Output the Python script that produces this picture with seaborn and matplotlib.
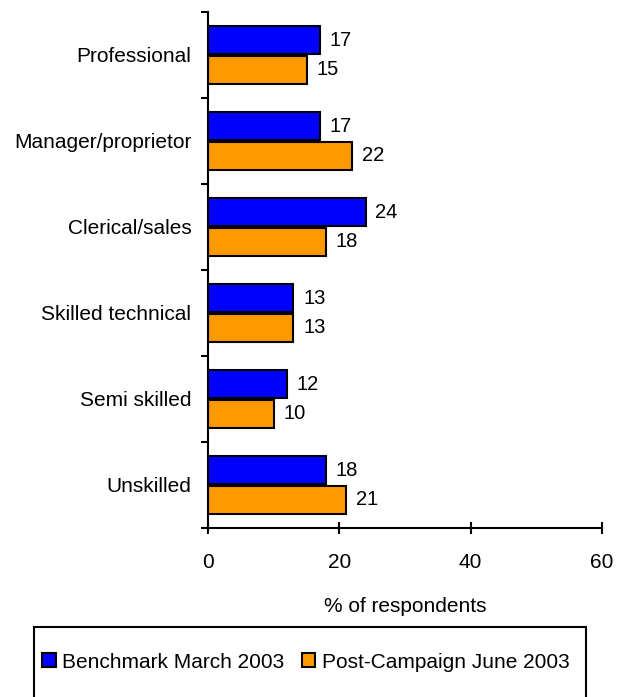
import numpy as np
import pandas as pd
import matplotlib.pyplot as plt
import seaborn as sns
from matplotlib.patches import Rectangle

categories = ["Professional", "Manager/proprietor", "Clerical/sales",
              "Skilled technical", "Semi skilled", "Unskilled"]
series_names = ["Benchmark March 2003", "Post-Campaign June 2003"]
benchmark = [17, 17, 24, 13, 12, 18]
post_campaign = [15, 22, 18, 13, 10, 21]
colors = ["#0000FF", "#FF9900"]

df = pd.DataFrame({
    "category": categories * 2,
    "series": [series_names[0]] * 6 + [series_names[1]] * 6,
    "value": benchmark + post_campaign,
})

sns.set_style("ticks", {"text.color": "black", "axes.labelcolor": "black",
                        "xtick.color": "black", "ytick.color": "black",
                        "axes.edgecolor": "black"})
plt.rcParams["font.family"] = ["Liberation Sans", "DejaVu Sans"]
plt.rcParams["font.size"] = 15

fig = plt.figure(figsize=(6.25, 6.97), dpi=100)
ax = fig.add_axes([208 / 625, 1 - 528 / 697, (602 - 208) / 625, (528 - 12) / 697])

sns.barplot(data=df, y="category", x="value", hue="series", order=categories,
            hue_order=series_names, palette=colors, orient="h", width=0.68,
            gap=0.04, edgecolor="black", linewidth=1.5, saturation=1, ax=ax)

for cont in ax.containers:
    ax.bar_label(cont, padding=7, fontsize=14.5)

ax.set_xlim(0, 60)
ax.set_ylim(5.5, -0.5)
ax.set_xticks([0, 20, 40, 60])
ax.set_yticks(np.arange(-0.5, 6.0, 1.0), minor=False)
ax.set_yticklabels([])
ax.set_yticks(np.arange(6), minor=True)
ax.set_yticklabels(categories, minor=True)
ax.tick_params(axis="y", which="minor", length=0, pad=12, labelsize=15)
ax.tick_params(axis="y", which="major", direction="out", length=5, width=1.5)
ax.tick_params(axis="x", direction="inout", length=8, width=1.5, pad=14, labelsize=15)
ax.set_ylabel("")
ax.set_xlabel("% of respondents", fontsize=15, labelpad=18)
for s in ["top", "right"]:
    ax.spines[s].set_visible(False)
for s in ["left", "bottom"]:
    ax.spines[s].set_linewidth(1.5)

ax.get_legend().remove()
handles = [Rectangle((0, 0), 1, 1, facecolor=c, edgecolor="black", linewidth=1.5) for c in colors]
fig.legend(handles, series_names, loc="center left",
           bbox_to_anchor=(42 / 625, 1 - 662 / 697), ncol=2, frameon=False,
           handlelength=0.65, handleheight=0.65, handletextpad=0.3,
           columnspacing=0.85, fontsize=15, borderpad=0, borderaxespad=0)
fig.patches.append(Rectangle((34 / 625, -0.05), (586 - 34) / 625, 0.05 + 1 - 627 / 697,
                             transform=fig.transFigure, facecolor="none",
                             edgecolor="black", linewidth=1.5))

fig.savefig("out.png", dpi=100)
